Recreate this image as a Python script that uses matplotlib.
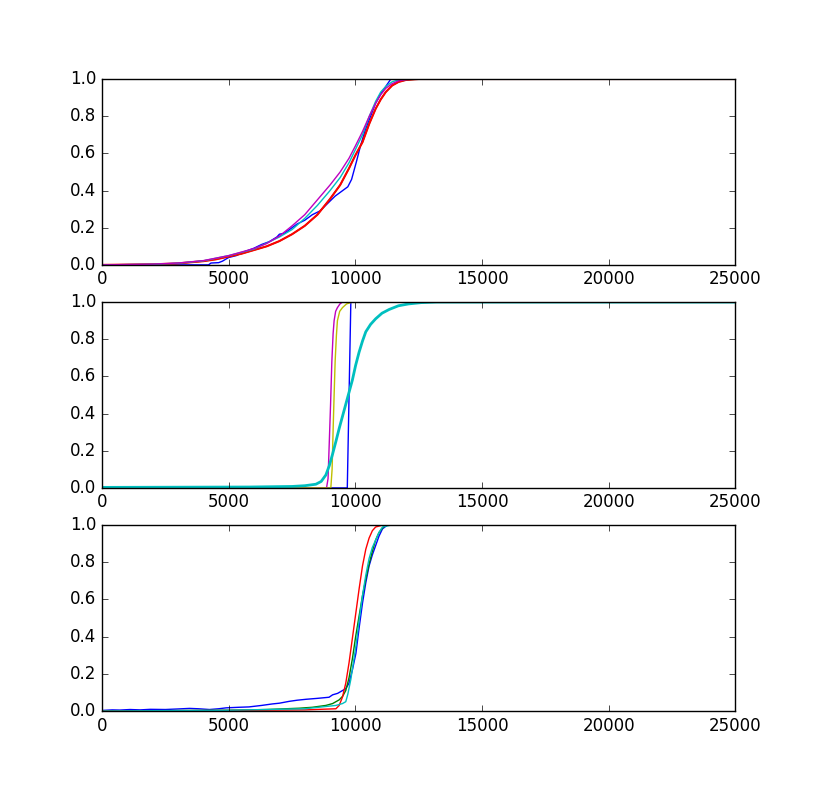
import matplotlib
matplotlib.use("Agg")
import matplotlib.pyplot as plt

plt.style.use("classic")

# ---- top panel ----
top_b_x = [0, 4200, 4300, 4600, 4750, 5000, 5300, 5600, 6000, 6300, 6600, 6900, 7000, 7200, 7500,
           7700, 8000, 8300, 8600, 8900, 9200, 9500, 9700, 9850, 10050, 10200, 10400, 10600,
           10800, 11000, 11200, 11400, 25000]
top_b_y = [0.0, 0.0, 0.01, 0.012, 0.02, 0.04, 0.05, 0.07, 0.09, 0.11, 0.125, 0.15, 0.165, 0.17, 0.20,
           0.22, 0.24, 0.27, 0.29, 0.33, 0.37, 0.40, 0.42, 0.46, 0.56, 0.64, 0.73, 0.80,
           0.87, 0.92, 0.96, 1.0, 1.0]

top_r_x = [0, 2000, 3000, 4000, 4500, 5000, 5500, 6000, 6500, 7000, 7500, 8000, 8500, 9000, 9400,
           9750, 10000, 10280, 10550, 10800, 11000, 11200, 11450, 11700, 12000, 12500, 25000]
top_r_y = [0.0, 0.003, 0.008, 0.02, 0.03, 0.045, 0.06, 0.08, 0.10, 0.128, 0.165, 0.21, 0.27, 0.355, 0.43,
           0.52, 0.59, 0.66, 0.76, 0.84, 0.89, 0.93, 0.965, 0.984, 0.995, 1.0, 1.0]

top_c_x = [0, 2000, 3000, 4000, 5000, 6000, 7000, 7500, 8000, 8500, 9000, 9400, 9750, 10000, 10280,
           10550, 10800, 11000, 11200, 11450, 11700, 12300, 25000]
top_c_y = [0.0, 0.003, 0.009, 0.022, 0.05, 0.085, 0.15, 0.19, 0.25, 0.32, 0.40, 0.47, 0.55, 0.62, 0.70,
           0.80, 0.88, 0.93, 0.96, 0.985, 0.995, 1.0, 1.0]

top_m_x = [0, 2000, 3000, 4000, 5000, 6000, 6500, 7000, 7500, 8000, 8500, 9000, 9400, 9750, 10000,
           10280, 10550, 10800, 11000, 11200, 11450, 11700, 12000, 12400, 25000]
top_m_y = [0.0, 0.004, 0.01, 0.023, 0.05, 0.088, 0.115, 0.155, 0.21, 0.27, 0.35, 0.43, 0.50, 0.574, 0.64,
           0.717, 0.80, 0.87, 0.915, 0.95, 0.975, 0.99, 0.997, 1.0, 1.0]

# ---- middle panel ----
mid_b_x = [0, 9680, 9820, 25000]
mid_b_y = [0.0, 0.0, 1.0, 1.0]

mid_m_x = [0, 8860, 8920, 8965, 9020, 9070, 9120, 9160, 9220, 9290, 9390, 9490, 25000]
mid_m_y = [0.0, 0.0, 0.05, 0.23, 0.45, 0.68, 0.83, 0.90, 0.95, 0.97, 0.99, 1.0, 1.0]

mid_y_x = [0, 9030, 9080, 9122, 9160, 9200, 9250, 9290, 9380, 9490, 9650, 9880, 25000]
mid_y_y = [0.0, 0.0, 0.10, 0.32, 0.50, 0.68, 0.82, 0.90, 0.95, 0.97, 0.99, 1.0, 1.0]

mid_c_x = [0, 5800, 7500, 8000, 8440, 8650, 8835, 8970, 9095, 9230, 9360, 9490, 9620, 9750, 9880,
           10010, 10145, 10280, 10410, 10600, 10800, 11050, 11330, 11700, 12100, 12600, 13200, 25000]
mid_c_y = [0.003, 0.005, 0.008, 0.012, 0.02, 0.035, 0.07, 0.12, 0.18, 0.25, 0.32, 0.385, 0.45, 0.515, 0.58,
           0.66, 0.73, 0.79, 0.84, 0.88, 0.91, 0.94, 0.96, 0.98, 0.99, 0.997, 1.0, 1.0]

# ---- bottom panel ----
bot_b_x = [0, 400, 700, 1100, 1500, 1900, 2500, 3000, 3450, 3800, 4240, 4600, 4900, 5400, 5800,
           6300, 6720, 7000, 7390, 7700, 8050, 8500, 8960, 9100, 9300, 9490, 9620, 9750, 9880,
           10020, 10150, 10280, 10410, 10540, 10670, 10800, 10930, 11070, 11260, 25000]
bot_b_y = [0.003, 0.006, 0.005, 0.008, 0.006, 0.009, 0.008, 0.011, 0.014, 0.012, 0.008, 0.012, 0.017, 0.02, 0.022,
           0.03, 0.038, 0.042, 0.052, 0.058, 0.063, 0.068, 0.074, 0.087, 0.095, 0.11, 0.12, 0.15, 0.22,
           0.31, 0.45, 0.58, 0.69, 0.78, 0.84, 0.89, 0.94, 0.98, 1.0, 1.0]

bot_g_x = [0, 5000, 6500, 7780, 8300, 8835, 9100, 9360, 9500, 9620, 9750, 9880, 10010, 10145, 10280,
           10410, 10540, 10670, 10800, 10930, 11070, 11200, 25000]
bot_g_y = [0.0, 0.004, 0.008, 0.015, 0.02, 0.03, 0.04, 0.06, 0.08, 0.11, 0.18, 0.28, 0.40, 0.51, 0.62,
           0.71, 0.79, 0.86, 0.92, 0.96, 0.985, 1.0, 1.0]

bot_r_x = [0, 5000, 8000, 9230, 9360, 9490, 9620, 9750, 9880, 10020, 10150, 10280, 10410, 10540,
           10670, 10800, 11070, 25000]
bot_r_y = [0.0, 0.003, 0.006, 0.012, 0.03, 0.075, 0.15, 0.26, 0.39, 0.53, 0.66, 0.78, 0.87, 0.93,
           0.97, 0.99, 1.0, 1.0]

bot_c_x = [0, 5000, 8000, 9230, 9490, 9620, 9700, 9820, 9920, 10020, 10150, 10280, 10410, 10540,
           10670, 10800, 10930, 11070, 11400, 25000]
bot_c_y = [0.0, 0.004, 0.012, 0.03, 0.04, 0.05, 0.09, 0.17, 0.26, 0.35, 0.49, 0.62, 0.73, 0.82,
           0.88, 0.92, 0.96, 0.99, 1.0, 1.0]

fig = plt.figure(figsize=(8.17, 7.9), dpi=100, facecolor="white")

ax1 = fig.add_subplot(3, 1, 1)
ax1.plot(top_b_x, top_b_y, "b")
ax1.plot(top_r_x, top_r_y, "g")
ax1.plot(top_r_x, top_r_y, "r", lw=1.5)
ax1.plot(top_c_x, top_c_y, "c")
ax1.plot(top_m_x, top_m_y, "m")

ax2 = fig.add_subplot(3, 1, 2)
ax2.plot(mid_b_x, mid_b_y, "b")
ax2.plot(mid_m_x, mid_m_y, "m")
ax2.plot(mid_y_x, mid_y_y, "y")
ax2.plot(mid_c_x, mid_c_y, "c", lw=2)

ax3 = fig.add_subplot(3, 1, 3)
ax3.plot(bot_b_x, bot_b_y, "b")
ax3.plot(bot_g_x, bot_g_y, "g")
ax3.plot(bot_r_x, bot_r_y, "r")
ax3.plot(bot_c_x, bot_c_y, "c")

for ax in (ax1, ax2, ax3):
    ax.set_xlim(0, 25000)
    ax.set_ylim(0, 1)
    ax.set_xticks(range(0, 25001, 5000))
    ax.set_yticks([0.0, 0.2, 0.4, 0.6, 0.8, 1.0])

fig.savefig("out.png", dpi=100, facecolor="white")
